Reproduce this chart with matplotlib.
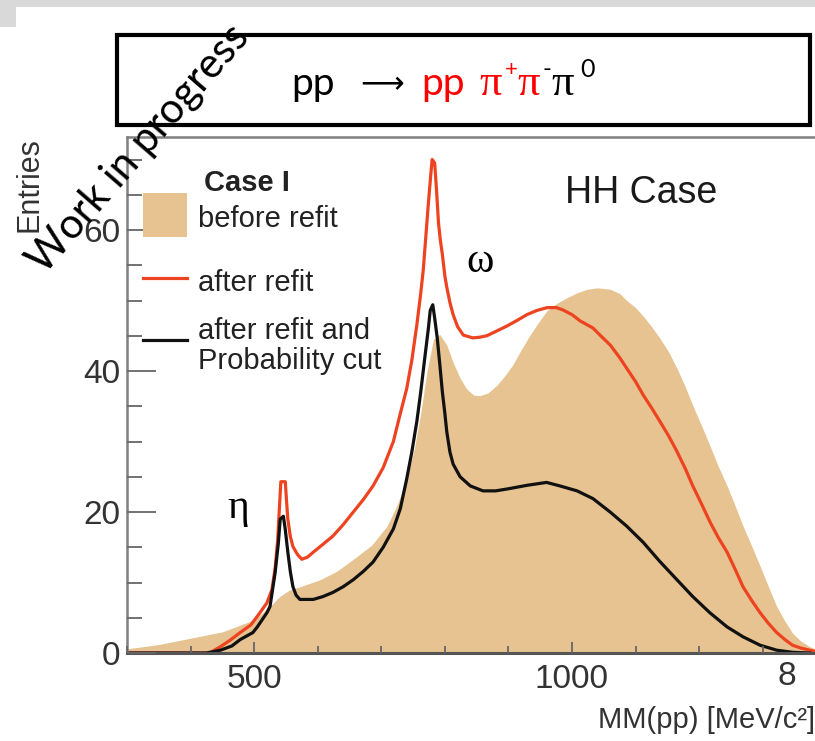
import matplotlib.pyplot as plt
from matplotlib.patches import Rectangle
from matplotlib.lines import Line2D
from matplotlib.ticker import MultipleLocator

# before refit (filled histogram)
mass_before = [300, 350, 400, 450, 500, 525, 540, 555, 572, 604, 630, 656, 685, 709, 725,
               740, 752, 762, 772, 782, 792, 803, 813, 824, 834, 845, 855, 868, 882, 895,
               907, 920, 934, 948, 961, 976, 992, 1008, 1024, 1040, 1060, 1075, 1086, 1100,
               1112, 1125, 1138, 1152, 1165, 1178, 1190, 1204, 1217, 1230, 1244, 1257, 1269,
               1283, 1296, 1309, 1322, 1335, 1347, 1360, 1374, 1390, 1405]
entries_before = [0.6, 1.2, 2.1, 3.0, 4.7, 6.6, 8.0, 8.9, 9.4, 10.4, 11.6, 13.3, 15.3, 18, 21,
                  24.7, 29, 34, 40, 44.5, 45.2, 43.7, 41.2, 39, 37.5, 36.6, 36.5, 36.9, 38, 39.4,
                  40.9, 43, 45.1, 47, 48.6, 49.6, 50.4, 51.1, 51.6, 51.8, 51.6, 51, 50, 49,
                  47.8, 46.3, 44.7, 42.7, 40.4, 37.8, 35.1, 32.2, 29.4, 26.5, 23.7, 20.8, 18,
                  15.1, 12.3, 9.4, 6.6, 4.5, 2.8, 1.7, 0.9, 0.3, 0]

# after refit
mass_after = [300, 430, 447, 462, 478, 495, 509, 520, 528, 533, 537, 540, 542, 549, 551, 553,
              557, 561, 568, 575, 584, 593, 608, 624, 640, 656, 672, 687, 703, 719, 730, 740,
              748, 756, 762, 766, 770, 774, 778, 780, 784, 787, 790, 793, 796, 800, 803, 808,
              813, 820, 829, 844, 855, 866, 882, 898, 914, 929, 945, 961, 975, 985, 1000,
              1013, 1033, 1044, 1060, 1075, 1086, 1100, 1112, 1125, 1138, 1152, 1165, 1178,
              1190, 1204, 1217, 1230, 1244, 1257, 1269, 1283, 1296, 1309, 1322, 1335, 1347,
              1360, 1374, 1390, 1405]
entries_after = [0, 0, 0.9, 1.8, 2.9, 4.0, 5.7, 7.1, 9, 12, 16, 21, 24.3, 24.3, 21.5, 19,
                 16.5, 15.1, 14, 13.3, 13.6, 14.3, 15.4, 16.6, 18.2, 20, 21.8, 23.7, 26.3, 30, 34, 37.5,
                 41.5, 46.6, 51, 54.3, 59, 63.7, 68, 70, 69.5, 65.5, 61, 58.5, 56.6, 53.5, 51.9, 49.7,
                 48, 46.3, 45.1, 44.7, 44.8, 45, 45.7, 46.4, 47.2, 48, 48.6, 49, 49, 48.7, 48,
                 47.1, 46.1, 45.1, 43.7, 41.9, 40.4, 38.5, 36.6, 34.8, 32.9, 30.8, 28.6, 26.2,
                 23.7, 21.1, 18.6, 16.4, 14.3, 11.8, 9.4, 7.4, 5.7, 4.2, 2.9, 1.9, 1.1,
                 0.7, 0.4, 0.1, 0]

# after refit and probability cut
mass_cut = [300, 425, 447, 465, 478, 498, 505, 520, 525, 533, 538, 541, 546, 549, 553, 557,
            561, 566, 572, 593, 608, 624, 640, 656, 672, 687, 703, 719, 730, 740, 748, 756,
            762, 769, 774, 777, 781, 784, 788, 792, 796, 800, 803, 808, 813, 824, 840, 860,
            880, 900, 930, 960, 981, 1008, 1033, 1060, 1086, 1112, 1138, 1165, 1190, 1217,
            1244, 1269, 1296, 1322, 1347, 1374]
entries_cut = [0, 0, 0.4, 1.0, 1.9, 2.9, 3.7, 5.7, 6.6, 11.4, 15.5, 19, 19.4, 17.5, 14.3, 11.5,
               9.4, 8.2, 7.6, 7.6, 8.0, 8.6, 9.4, 10.4, 11.6, 12.9, 15, 17.6, 20.5, 24.7, 28.5, 32.9,
               37, 42.3, 46, 48.6, 49.4, 47.5, 44.7, 41, 37.1, 34, 31.4, 28.5, 26.8, 25, 23.7, 23,
               23, 23.3, 23.8, 24.2, 23.7, 23, 21.9, 20, 18, 15.7, 13, 10.4, 8, 5.7,
               3.7, 2.3, 1.1, 0.4, 0.1, 0]

xticks = [500, 1000]
yticks = [0, 20, 40, 60]

TAN = "#e6c391"
RED = "#ee4320"
INK = "#333333"

W, H = 815, 741
fig = plt.figure(figsize=(W / 100, H / 100), dpi=100)


def fx(x):
    return x / W


def fy(y):
    return 1 - y / H


ax = fig.add_axes([fx(127), fy(653), (839 - 127) / W, (653 - 137) / H])
ax.fill_between(mass_before, entries_before, color=TAN, lw=0)
ax.plot(mass_after, entries_after, color=RED, lw=2.3)
ax.plot(mass_cut, entries_cut, color="#111111", lw=2.3)
ax.set_xlim(300, 1420)
ax.set_ylim(0, 73.2)

ax.set_xticks(xticks)
ax.set_yticks(yticks)
ax.xaxis.set_minor_locator(MultipleLocator(100))
ax.yaxis.set_minor_locator(MultipleLocator(5))
ax.tick_params(axis="y", which="major", direction="in", length=21, width=1.3, color="#666666",
               labelsize=24, labelcolor=INK, pad=5)
ax.tick_params(axis="y", which="minor", direction="in", length=11, width=1.3, color="#666666")
ax.tick_params(axis="x", which="major", direction="in", length=8, width=1.3, color="#666666",
               labelsize=24, labelcolor=INK, pad=8)
ax.tick_params(axis="x", which="minor", direction="in", length=5, width=1.3, color="#666666")
for lab in ax.get_xticklabels() + ax.get_yticklabels():
    lab.set_family("Liberation Sans")
for side in ["left", "top", "right"]:
    ax.spines[side].set_color("#808080")
    ax.spines[side].set_linewidth(1.8)
ax.spines["bottom"].set_color("#555555")
ax.spines["bottom"].set_linewidth(2.2)
ax.set_axisbelow(False)

# stray tick label at the cut right edge
ax.text(1338, -3.4, "8", ha="center", va="center", fontsize=24, color=INK,
        family="Liberation Sans")

# axis titles
fig.text(fx(30), fy(185), "Entries", rotation=90, ha="center", va="center", fontsize=22,
         color=INK, family="Liberation Sans")
fig.text(fx(598), fy(728), "MM(pp) [MeV/c²]", ha="left", va="baseline", fontsize=21,
         color=INK, family="Liberation Sans")

# legend
fig.add_artist(Rectangle((fx(143), fy(237)), 44 / W, 44 / H, transform=fig.transFigure,
                         facecolor=TAN, edgecolor="none"))
fig.add_artist(Line2D([fx(143), fx(187)], [fy(278), fy(278)], color=RED, lw=2.3))
fig.add_artist(Line2D([fx(143), fx(187)], [fy(340), fy(340)], color="#111111", lw=2.3))
fig.text(fx(204), fy(183), "Case I", ha="left", va="center", fontsize=21, weight="bold",
         color="#222222", family="Liberation Sans")
for label, ypx in [("before refit", 219), ("after refit", 283),
                   ("after refit and", 331), ("Probability cut", 361)]:
    fig.text(fx(198), fy(ypx), label, ha="left", va="center", fontsize=21, color="#222222",
             family="Liberation Sans")

fig.text(fx(565), fy(193), "HH Case", ha="left", va="center", fontsize=27, color="#1a1a1a",
         family="Liberation Sans")
fig.text(fx(480), fy(262), "ω", ha="center", va="center", fontsize=30, color="black",
         family="Liberation Serif")
fig.text(fx(238), fy(508), "η", ha="center", va="center", fontsize=30, color="black",
         family="Liberation Serif")

# slide decorations
fig.add_artist(Rectangle((0, fy(7)), 1, 7 / H, transform=fig.transFigure,
                         facecolor="#d9d9d9", edgecolor="none"))
fig.add_artist(Rectangle((0, fy(27)), 16 / W, 20 / H, transform=fig.transFigure,
                         facecolor="#d9d9d9", edgecolor="none"))
fig.add_artist(Rectangle((fx(117), fy(125)), (810 - 117) / W, (125 - 35) / H,
                         transform=fig.transFigure, facecolor="white", edgecolor="black",
                         lw=3))

# reaction title, one piece per colour
title_parts = [
    ("pp", 291, 95, 28, "black", ["Lato"]),
    ("⟶", 360, 93, 22, "black", ["DejaVu Sans"]),
    ("pp", 421, 95, 28, "red", ["Lato"]),
    ("π", 479, 95, 32, "red", ["Liberation Serif"]),
    ("+", 505, 76, 16, "red", ["Lato"]),
    ("π", 517, 95, 32, "red", ["Liberation Serif"]),
    ("-", 543, 76, 17, "black", ["Lato"]),
    ("π", 551, 95, 32, "black", ["Liberation Serif"]),
    ("0", 580, 77, 18, "black", ["Lato"]),
]
for txt, xp, yp, size, col, fam in title_parts:
    fig.text(fx(xp), fy(yp), txt, ha="left", va="baseline", fontsize=size, color=col,
             family=fam)

fig.text(fx(139), fy(149), "Work in progress", rotation=49, rotation_mode="anchor",
         ha="center", va="center", fontsize=30, color="black", family="Lato")

fig.savefig("out.png", dpi=100)
